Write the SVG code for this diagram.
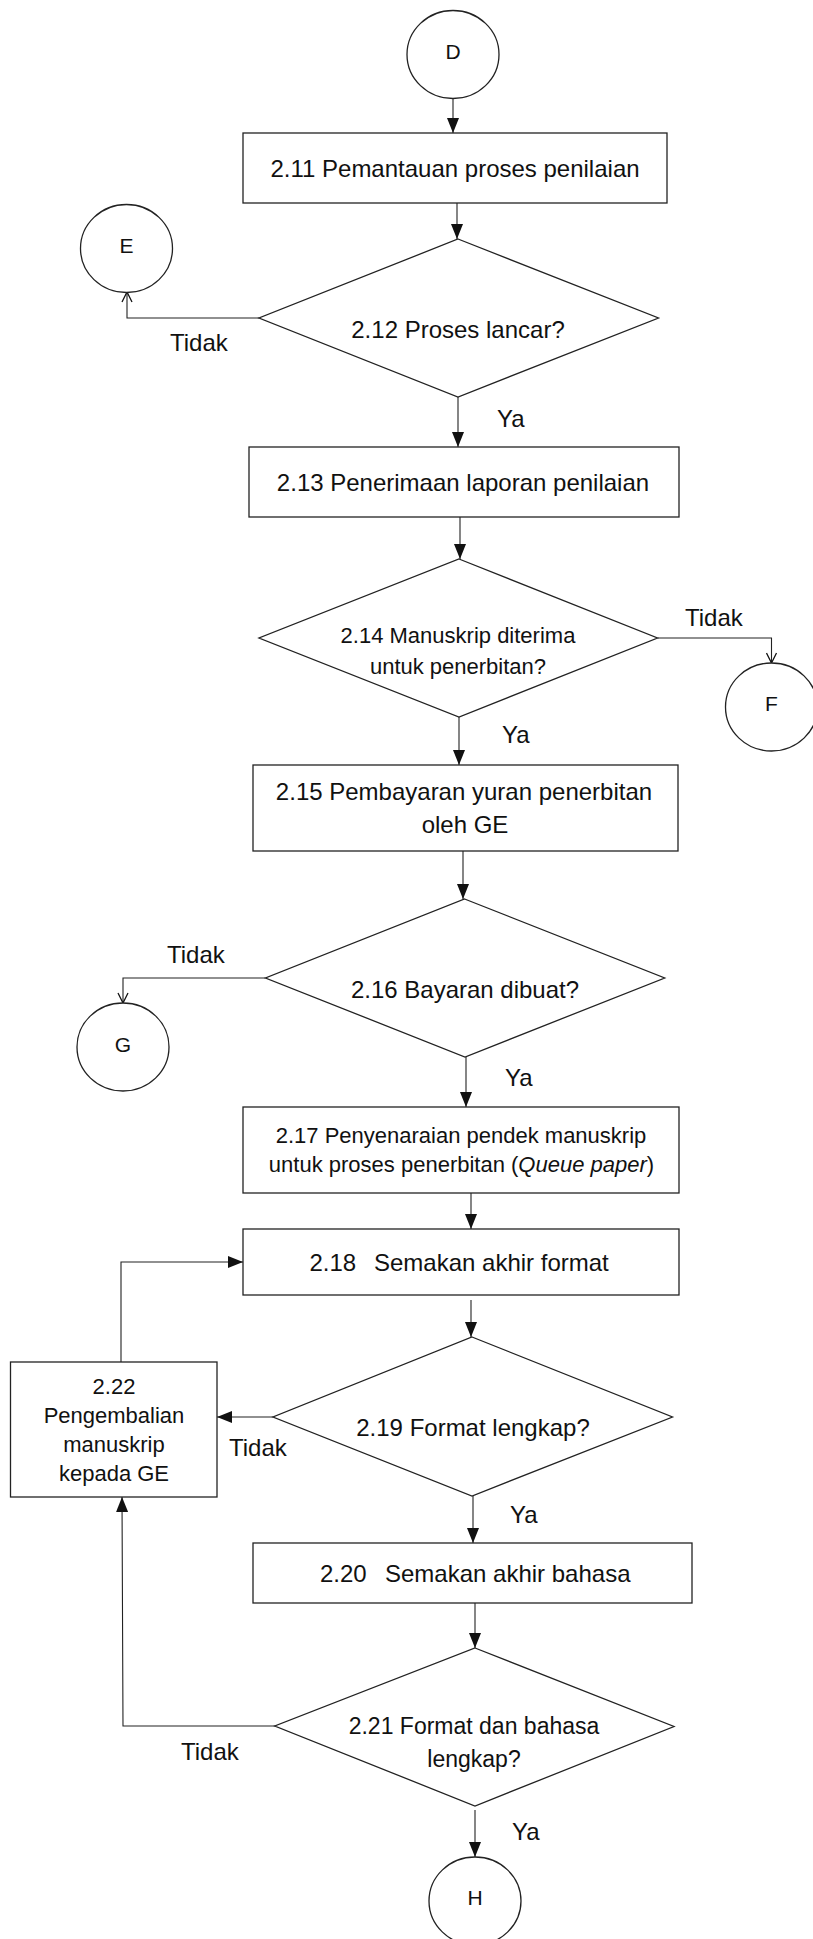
<svg xmlns="http://www.w3.org/2000/svg" width="813" height="1939" viewBox="0 0 813 1939">
<style>
.shape{fill:#fff;stroke:#222;stroke-width:1.3}
.conn{fill:none;stroke:#222;stroke-width:1.1}
text{font-family:"Liberation Sans",Arial,sans-serif;fill:#111}
.t24{font-size:24px;text-anchor:middle}
.t23{font-size:23px;text-anchor:middle}
.t22{font-size:22px;text-anchor:middle}
.lbl{font-size:24px}
.ltr{font-size:21px;text-anchor:middle}
.st{font-size:24px}
</style>
<defs>
<marker id="arr" markerUnits="userSpaceOnUse" markerWidth="15" markerHeight="12" refX="15" refY="6" orient="auto">
<path d="M0,0 L15,6 L0,12 z" fill="#111"/>
</marker>
<marker id="open" markerUnits="userSpaceOnUse" markerWidth="12" markerHeight="12" refX="11" refY="6" orient="auto">
<path d="M1,1 L11,6 L1,11" fill="none" stroke="#111" stroke-width="1.3"/>
</marker>
</defs>
<rect width="813" height="1939" fill="#fff"/>
<g id="connectors">
<path class="conn" d="M453,98 L453,133" marker-end="url(#arr)"/>
<path class="conn" d="M457,203 L457,239" marker-end="url(#arr)"/>
<path class="conn" d="M259,318 L127,318 L127,292" marker-end="url(#open)"/>
<path class="conn" d="M458,397 L458,447" marker-end="url(#arr)"/>
<path class="conn" d="M460,517 L460,559" marker-end="url(#arr)"/>
<path class="conn" d="M657.5,638 L771.5,638 L771.5,663" marker-end="url(#open)"/>
<path class="conn" d="M459,717 L459,765" marker-end="url(#arr)"/>
<path class="conn" d="M463,851 L463,899" marker-end="url(#arr)"/>
<path class="conn" d="M265.5,978 L123,978 L123,1003" marker-end="url(#open)"/>
<path class="conn" d="M466,1057 L466,1107" marker-end="url(#arr)"/>
<path class="conn" d="M471,1193 L471,1229" marker-end="url(#arr)"/>
<path class="conn" d="M471,1300 L471,1337" marker-end="url(#arr)"/>
<path class="conn" d="M273,1417 L217,1417" marker-end="url(#arr)"/>
<path class="conn" d="M121,1362 L121,1262 L243,1262" marker-end="url(#arr)"/>
<path class="conn" d="M473,1496 L473,1543" marker-end="url(#arr)"/>
<path class="conn" d="M475,1603 L475,1648" marker-end="url(#arr)"/>
<path class="conn" d="M275,1726 L123,1726 L122,1497" marker-end="url(#arr)"/>
<path class="conn" d="M475,1810 L475,1857" marker-end="url(#arr)"/>
<text class="lbl" x="170" y="351">Tidak</text>
<text class="lbl" x="497" y="427">Ya</text>
<text class="lbl" x="685" y="626">Tidak</text>
<text class="lbl" x="502" y="743">Ya</text>
<text class="lbl" x="167" y="963">Tidak</text>
<text class="lbl" x="505" y="1086">Ya</text>
<text class="lbl" x="229" y="1456">Tidak</text>
<text class="lbl" x="510" y="1523">Ya</text>
<text class="lbl" x="181" y="1760">Tidak</text>
<text class="lbl" x="512" y="1840">Ya</text>
</g>
<g id="D"><ellipse class="shape" cx="453" cy="54.5" rx="46" ry="44"/><text class="ltr" x="453" y="59">D</text></g>
<g id="n2_11"><rect class="shape" x="243" y="133" width="424" height="70"/><text class="t24" x="455" y="177">2.11 Pemantauan proses penilaian</text></g>
<g id="E"><ellipse class="shape" cx="126.5" cy="248.5" rx="46" ry="44"/><text class="ltr" x="126.5" y="253">E</text></g>
<g id="n2_12"><polygon class="shape" points="458,239 658.5,318 458,397 259,318"/><text class="t24" x="458" y="338">2.12 Proses lancar?</text></g>
<g id="n2_13"><rect class="shape" x="249" y="447" width="430" height="70"/><text class="t24" x="463" y="491">2.13 Penerimaan laporan penilaian</text></g>
<g id="n2_14"><polygon class="shape" points="459,559 657.5,638 459,717 259,638"/><text class="t22" x="458" y="643">2.14 Manuskrip diterima</text><text class="t22" x="458" y="674">untuk penerbitan?</text></g>
<g id="F"><ellipse class="shape" cx="771.5" cy="707" rx="46" ry="44"/><text class="ltr" x="771.5" y="711">F</text></g>
<g id="n2_15"><rect class="shape" x="253" y="765" width="425" height="86"/><text class="t24" x="464" y="800">2.15 Pembayaran yuran penerbitan</text><text class="t24" x="465" y="833">oleh GE</text></g>
<g id="n2_16"><polygon class="shape" points="464.6,899 664.7,978 465,1057 265.5,978"/><text class="t24" x="465" y="998">2.16 Bayaran dibuat?</text></g>
<g id="G"><ellipse class="shape" cx="123" cy="1047" rx="46" ry="44"/><text class="ltr" x="123" y="1052">G</text></g>
<g id="n2_17"><rect class="shape" x="243" y="1107" width="436" height="86"/><text class="t22" x="461" y="1143">2.17 Penyenaraian pendek manuskrip</text><text class="t22" x="461.5" y="1172">untuk proses penerbitan (<tspan font-style="italic">Queue paper</tspan>)</text></g>
<g id="n2_18"><rect class="shape" x="243" y="1229" width="436" height="66"/><text class="st" x="309.5" y="1271">2.18</text><text class="st" x="374" y="1271">Semakan akhir format</text></g>
<g id="n2_19"><polygon class="shape" points="472,1337 672.5,1417 472,1496 273,1417"/><text class="t24" x="473" y="1436">2.19 Format lengkap?</text></g>
<g id="n2_22"><rect class="shape" x="10.5" y="1362" width="206.5" height="135"/><text class="t22" x="114" y="1394">2.22</text><text class="t22" x="114" y="1423">Pengembalian</text><text class="t22" x="114" y="1452">manuskrip</text><text class="t22" x="114" y="1481">kepada GE</text></g>
<g id="n2_20"><rect class="shape" x="253" y="1543" width="439" height="60"/><text class="st" x="320" y="1582">2.20</text><text class="st" x="385" y="1582">Semakan akhir bahasa</text></g>
<g id="n2_21"><polygon class="shape" points="475,1648 674,1726.5 475,1806 274.8,1726"/><text class="t23" x="474" y="1734">2.21 Format dan bahasa</text><text class="t23" x="474" y="1767">lengkap?</text></g>
<g id="H"><ellipse class="shape" cx="475" cy="1901" rx="46" ry="44"/><text class="ltr" x="475" y="1905">H</text></g>
</svg>
